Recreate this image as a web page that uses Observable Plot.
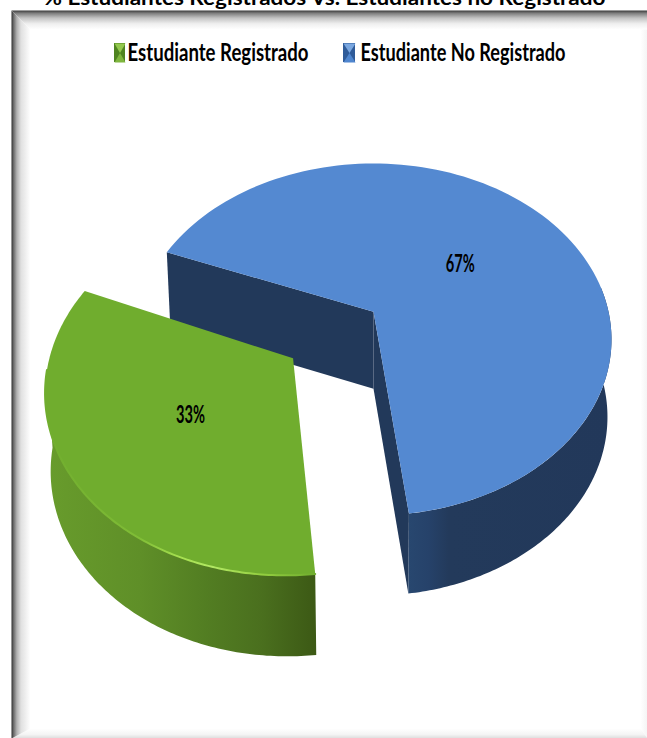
<!DOCTYPE html>
<html>
<head>
<meta charset="utf-8">
<script src="https://cdn.jsdelivr.net/npm/d3@7"></script>
<script src="https://cdn.jsdelivr.net/npm/@observablehq/plot@0.6"></script>
<style>
html,body{margin:0;padding:0;background:#fff;overflow:hidden}
svg{display:block}
</style>
</head>
<body>
<div id="chart"></div>
<script>
const titleText = "% Estudiantes Registrados Vs. Estudiantes no Registrado";
const categories = ["Estudiante Registrado", "Estudiante No Registrado"];
const shares = [33, 67];

// Pie geometry (layout, not data)
const cx = 374, cy = 339, rx = 238, ry = 176, k = -0.158, s = Math.sqrt(1 - k * k);
const startDeg = 291.5;           // where the blue slice starts, clockwise from north
const explode = {u: -0.337, v: 0.25};
const labelR = 0.49;
const rad = d => d * Math.PI / 180;
const project = (u, v) => {
  const w = 1 + k * v;
  return {x: cx + rx * s * u / w, y: cy + ry * (v + k) / w};
};
const shiftBlue = p => ({x: p.x - 1, y: p.y});
// small fit of the exploded slice around its own apex
const greenApex = project(explode.u, explode.v);
const fitGreen = p => {
  const dx = p.x - greenApex.x, dy = p.y - greenApex.y;
  return {x: greenApex.x + 1 + 0.99 * dx + 0.006 * dy, y: greenApex.y + 2 + 0.022 * dx + 0.976 * dy};
};
const lower = p => ({x: cx + (p.x - cx) * 0.983, y: p.y + 77 + (p.y - 312) * 0.015});
const blueSpan = shares[1] * 3.6, greenSpan = shares[0] * 3.6;
const blueStart = startDeg, blueEnd = blueStart + blueSpan;
const greenStart = blueEnd, greenEnd = greenStart + greenSpan;

const rimRaw = (a0, a1, off = {u: 0, v: 0}) =>
  d3.range(0, 121).map(i => {
    const a = rad(a0 + (a1 - a0) * i / 120);
    return project(Math.sin(a) + off.u, -Math.cos(a) + off.v);
  });
const blueRim = (a0, a1) => rimRaw(a0, a1).map(shiftBlue);
const greenRim = (a0, a1) => rimRaw(a0, a1, explode).map(fitGreen);
const apexB = shiftBlue(project(0, 0));
const apexG = fitGreen(greenApex);

const blueTop = [apexB, ...blueRim(blueStart, blueEnd)];
const greenTop = [apexG, ...greenRim(greenStart, greenEnd)];
const strip = pts => [...pts, ...pts.map(lower).reverse()];
const blueWallBack = strip([apexB, blueRim(blueStart, blueStart)[0]]);
const blueWallFront = strip([apexB, blueRim(blueEnd, blueEnd)[0]]);
const blueSide = strip(blueRim(blueStart + 150, blueEnd));
const greenSide = strip(greenRim(greenStart, greenStart + 92));
const greenHighlight = greenRim(greenStart, greenStart + 92);

const polygon = (pts, fill) => Plot.line(pts, {x: "x", y: "y", fill, stroke: "none", curve: "linear"});

const labelOf = (midDeg, off, fit) => fit(project(labelR * Math.sin(rad(midDeg)) + off.u, -labelR * Math.cos(rad(midDeg)) + off.v));
const labels = [
  {...labelOf((greenStart + greenEnd) / 2, explode, fitGreen), t: shares[0] + "%"},
  {...labelOf((blueStart + blueEnd) / 2, {u: 0, v: 0}, shiftBlue), t: shares[1] + "%"}
];

const swatchY = [43, 62];
const legendItems = [
  {x1: 114, x2: 125, tx: 127, t: categories[0], w: 181, side: "#4f8420", top: "#93c84e", bottom: "#7fb63e"},
  {x1: 343, x2: 355, tx: 360, t: categories[1], w: 205, side: "#2f5b99", top: "#7aa7e0", bottom: "#4f86cf"}
];
const swatchTriangle = (d, y) => polygon([{x: d.x1, y}, {x: d.x2, y}, {x: (d.x1 + d.x2) / 2, y: (swatchY[0] + swatchY[1]) / 2}], y === swatchY[0] ? d.top : d.bottom);

const gradient = (id, stops, o = "x1='0' x2='1' y1='0' y2='0'") =>
  `<linearGradient id="${id}" ${o}>` + stops.map(([p, c]) => `<stop offset="${p}" stop-color="${c}"/>`).join("") + `</linearGradient>`;

const defs = () => {
  const g = document.createElementNS("http://www.w3.org/2000/svg", "defs");
  const v = "x1='0' x2='0' y1='0' y2='1'";
  g.innerHTML =
    gradient("gSide", [[0, "#689c2c"], [0.35, "#5f8f28"], [0.6, "#527d22"], [0.8, "#4a6f1e"], [1, "#3c5915"]]) +
    gradient("bSide", [[0, "#28476f"], [0.1, "#26426a"], [0.2, "#233a5b"], [1, "#22385a"]]) +
    gradient("gLine", [[0, "#70ad2e"], [0.35, "#80bd36"], [0.5, "#a6e050"], [0.62, "#b2e864"], [0.8, "#94cf40"], [1, "#70ad2e"]]) +
    gradient("frL", [[0, "#2e2e2e"], [0.1, "#666"], [0.28, "#b0b0b0"], [0.5, "#e0e0e0"], [1, "#ffffff"]]) +
    gradient("frT", [[0, "#3a3a3a"], [0.15, "#808080"], [0.4, "#c4c4c4"], [0.7, "#efefef"], [1, "#ffffff"]], v) +
    gradient("frB", [[0, "#ffffff"], [0.6, "#f4f4f4"], [1, "#dcdcdc"]], v) +
    gradient("frR", [[0, "#ffffff"], [1, "#f4f4f4"]]);
  return g;
};

const P = (x, y) => ({x, y});
const plot = Plot.plot({
  width: 647,
  height: 738,
  margin: 0,
  x: {domain: [0, 647], range: [0, 647], axis: null},
  y: {domain: [0, 738], range: [0, 738], axis: null},
  style: {background: "#fff", overflow: "hidden"},
  marks: [
    defs,
    // frame
    polygon([P(640, 29), P(647, 22), P(647, 738), P(640, 728)], "url(#frR)"),
    polygon([P(30, 728), P(640, 728), P(647, 738), P(11, 738)], "url(#frB)"),
    polygon([P(11, 10), P(30, 29), P(30, 728), P(11, 738)], "url(#frL)"),
    polygon([P(11, 10), P(647, 10), P(647, 29), P(30, 29)], "url(#frT)"),
    // title
    Plot.text([titleText], {x: () => 43, y: () => 4, text: d => d, textAnchor: "start", lineAnchor: "bottom", fontFamily: "Lato, sans-serif", fontWeight: "bold", fontSize: 20, fill: "#000", className: "fit-title"}),
    // legend
    Plot.rect(legendItems, {x1: "x1", x2: "x2", y1: () => swatchY[0], y2: () => swatchY[1], fill: "side"}),
    ...legendItems.flatMap(d => swatchY.map(y => swatchTriangle(d, y))),
    Plot.text(legendItems, {x: "tx", y: () => 52, text: "t", textAnchor: "start", fontFamily: "Lato, sans-serif", fontWeight: "bold", fontSize: 25, fill: "#000", className: "fit-legend"}),
    // blue slice
    polygon(blueWallBack, "#22395a"),
    polygon(blueWallFront, "#22395a"),
    polygon(blueSide, "url(#bSide)"),
    polygon(blueTop, "#5489d1"),
    // green slice
    polygon(greenSide, "url(#gSide)"),
    polygon(greenTop, "#70ad2e"),
    Plot.line(greenHighlight, {x: "x", y: "y", stroke: "url(#gLine)", strokeWidth: 2}),
    // labels
    Plot.text(labels, {x: "x", y: "y", dy: 2, text: "t", fontFamily: "Lato, sans-serif", fontWeight: "bold", fontSize: 24, fill: "#000", className: "fit-label"})
  ]
});
const fit = (sel, widths) => plot.querySelectorAll(sel + " text").forEach((t, i) => {
  t.setAttribute("textLength", widths[i]);
  t.setAttribute("lengthAdjust", "spacingAndGlyphs");
});
fit(".fit-title", [562]);
fit(".fit-legend", legendItems.map(d => d.w));
fit(".fit-label", [29, 29]);
document.getElementById("chart").append(plot);
</script>
</body>
</html>
